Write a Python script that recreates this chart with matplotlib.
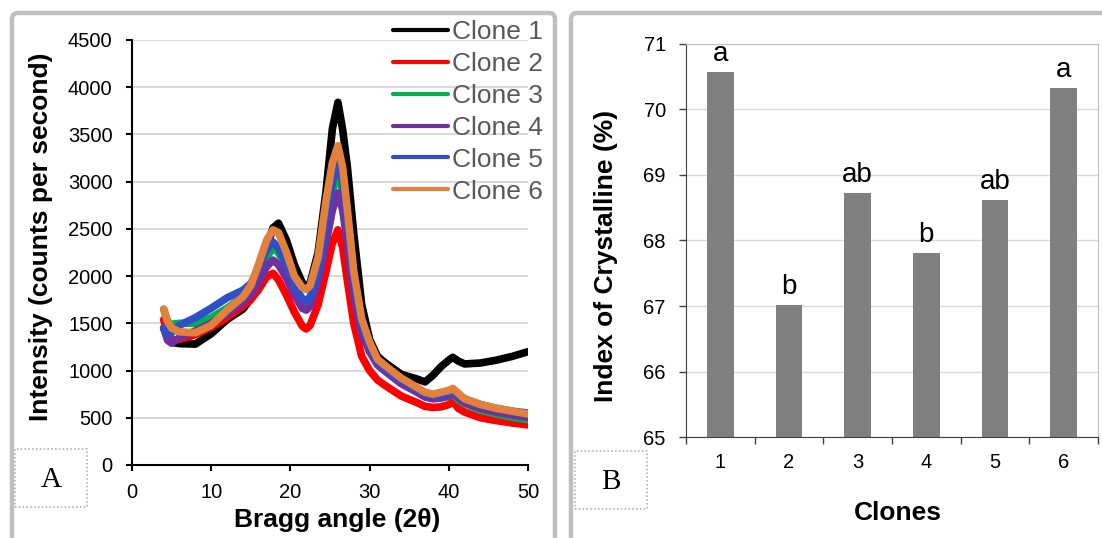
import matplotlib
matplotlib.use('Agg')
import matplotlib.pyplot as plt
from matplotlib.patches import FancyBboxPatch, Rectangle

plt.rcParams['font.family'] = ['Liberation Sans', 'DejaVu Sans']

# --- A: XRD patterns, intensity (counts per second) vs Bragg angle (2 theta)
bragg = [4, 4.5, 5, 6, 8, 10, 12, 14, 15, 16, 17, 17.8, 18.5, 19.5, 20.5, 21.5, 22, 22.5,
         23.5, 24.5, 25.3, 26, 26.6, 27.2, 28, 29, 30, 31, 32, 34, 36, 37, 38, 39, 40,
         40.5, 41.2, 42, 44, 46, 48, 50]
clone1 = [1450, 1360, 1300, 1285, 1280, 1390, 1540, 1650, 1760, 1950, 2300, 2510, 2560, 2380,
          2120, 1930, 1890, 1930, 2250, 2900, 3560, 3840, 3550, 3150, 2450, 1700, 1330, 1150,
          1080, 960, 910, 880, 950, 1040, 1110, 1140, 1100, 1070, 1080, 1110, 1150, 1200]
clone2 = [1540, 1380, 1320, 1330, 1380, 1460, 1560, 1680, 1750, 1860, 1990, 2030, 1960, 1800,
          1620, 1470, 1440, 1480, 1700, 2050, 2350, 2490, 2300, 1950, 1500, 1150, 1000, 900,
          840, 730, 660, 620, 610, 615, 640, 670, 600, 560, 500, 470, 445, 425]
clone3 = [1650, 1520, 1490, 1500, 1500, 1560, 1660, 1780, 1860, 2000, 2200, 2300, 2250, 2080,
          1870, 1730, 1710, 1750, 2000, 2500, 2900, 3090, 2900, 2500, 1900, 1450, 1230, 1080,
          1000, 870, 780, 730, 710, 710, 730, 750, 690, 650, 580, 540, 505, 480]
clone4 = [1450, 1320, 1290, 1350, 1420, 1500, 1600, 1720, 1800, 1930, 2100, 2170, 2120, 1980,
          1800, 1660, 1640, 1680, 1950, 2350, 2700, 2880, 2700, 2350, 1800, 1400, 1200, 1060,
          990, 860, 770, 720, 700, 710, 730, 760, 710, 660, 600, 560, 530, 505]
clone5 = [1450, 1380, 1400, 1480, 1560, 1660, 1770, 1850, 1920, 2080, 2280, 2360, 2300, 2120,
          1900, 1760, 1740, 1780, 2050, 2600, 3000, 3220, 3000, 2600, 1950, 1480, 1250, 1100,
          1020, 900, 800, 750, 730, 740, 760, 790, 740, 700, 640, 600, 570, 550]
clone6 = [1650, 1520, 1450, 1410, 1400, 1480, 1640, 1780, 1900, 2130, 2380, 2490, 2460, 2250,
          2000, 1880, 1860, 1900, 2200, 2800, 3200, 3380, 3150, 2700, 2050, 1550, 1300, 1120,
          1050, 920, 820, 770, 750, 770, 790, 810, 760, 700, 640, 600, 570, 540]
clone_names = ['Clone 1', 'Clone 2', 'Clone 3', 'Clone 4', 'Clone 5', 'Clone 6']
clone_colors = ['#000000', '#FF0000', '#00B050', '#7030A0', '#2E4FC8', '#E2803C']

# --- B: index of crystallinity per clone
clones = ['1', '2', '3', '4', '5', '6']
crystallinity = [70.57, 67.01, 68.72, 67.81, 68.61, 70.32]
groups = ['a', 'b', 'ab', 'b', 'ab', 'a']

W, H = 1102, 538
fig = plt.figure(figsize=(W / 100, H / 100), dpi=100)


def box(x0, y0, x1, y1):
    # pixel box measured from the top-left corner -> figure fractions
    return [x0 / W, 1 - y1 / H, (x1 - x0) / W, (y1 - y0) / H]


# grey panel frames (pixel coords, origin bottom-left)
for x0, x1 in [(12, 555), (571, 1130)]:
    fig.add_artist(FancyBboxPatch((x0, -30), x1 - x0, H - 13 + 30,
                                  boxstyle='round,pad=0,rounding_size=6',
                                  fc='none', ec='#BFBFBF', lw=3.2, transform=None))

# dotted boxes with panel letters
for x0, y0, letter in [(15, 449, 'A'), (575, 451, 'B')]:
    fig.add_artist(Rectangle((x0, H - y0 - 58), 72, 58, fc='none', ec='#A6A6A6',
                             lw=1.1, ls=(0, (1, 1.5)), transform=None))
    fig.text((x0 + 36) / W, 1 - (y0 + 31) / H, letter, ha='center', va='center',
             fontsize=21, family='Liberation Serif')

# ---------------- A ----------------
ax1 = fig.add_axes(box(132, 40, 528, 465))
ax1.set_facecolor('none')
for ys, c, n in zip([clone1, clone2, clone3, clone4, clone5, clone6], clone_colors, clone_names):
    ax1.plot(bragg, ys, color=c, lw=5.5, label=n, solid_joinstyle='round', solid_capstyle='round')
ax1.set_xlim(0, 50)
ax1.set_ylim(0, 4500)
ax1.set_xticks(range(0, 51, 10))
ax1.set_yticks(range(0, 4501, 500))
ax1.grid(axis='y', color='#D9D9D9', lw=1.5)
ax1.set_axisbelow(True)
ax1.spines[['top', 'right']].set_visible(False)
ax1.spines[['left', 'bottom']].set_linewidth(1.5)
ax1.tick_params(direction='out', length=4, width=1.5, labelsize=14.5)
ax1.tick_params(axis='y', pad=10)
ax1.tick_params(axis='x', pad=9)
ax1.set_xlabel('Bragg angle (2θ)', fontsize=19, fontweight='bold', va='center')
ax1.xaxis.set_label_coords(0.517, -0.129)
ax1.set_ylabel('Intensity (counts per second)', fontsize=19, fontweight='bold', va='center')
ax1.yaxis.set_label_coords(-0.231, 0.536)
leg = ax1.legend(loc='upper left', bbox_to_anchor=(393 / W, 1 - 20 / H),
                 bbox_transform=fig.transFigure, frameon=False, fontsize=19,
                 labelcolor='#595959', handlelength=2.08, handletextpad=0.15,
                 labelspacing=0.3, borderpad=0, borderaxespad=0)
for h in leg.legend_handles:
    h.set_linewidth(3)

# ---------------- B ----------------
ax2 = fig.add_axes(box(686, 43.5, 1098, 437.3))
ax2.set_facecolor('none')
pos = list(range(len(clones)))
ax2.bar(pos, crystallinity, width=0.39, color='#808080', zorder=2)
for i, (v, g) in enumerate(zip(crystallinity, groups)):
    ax2.annotate(g, (i, v), xytext=(0, 8), textcoords='offset points', ha='center',
                 va='baseline', fontsize=20, annotation_clip=False)
ax2.set_xlim(-0.5, 5.5)
ax2.set_ylim(65, 71)
ax2.set_yticks(range(65, 72))
ax2.set_xticks(pos, clones)
ax2.set_xticks([p - 0.5 for p in range(7)], minor=True)
ax2.grid(axis='y', color='#D9D9D9', lw=1)
ax2.set_axisbelow(True)
ax2.spines[['top', 'right']].set_color('#BFBFBF')
ax2.spines[['left', 'bottom']].set_color('#404040')
ax2.tick_params(axis='x', which='major', length=0, pad=11, labelsize=14.5)
ax2.tick_params(axis='x', which='minor', length=5, width=1, color='#404040')
ax2.tick_params(axis='y', length=5, width=1, color='#404040', pad=9.5, labelsize=14.5)
ax2.set_xlabel('Clones', fontsize=19, fontweight='bold', va='center')
ax2.xaxis.set_label_coords(0.515, -0.192)
ax2.set_ylabel('Index of Crystalline (%)', fontsize=19, fontweight='bold', va='center')
ax2.yaxis.set_label_coords(-0.193, 0.46)

fig.savefig('out.png', dpi=100)
